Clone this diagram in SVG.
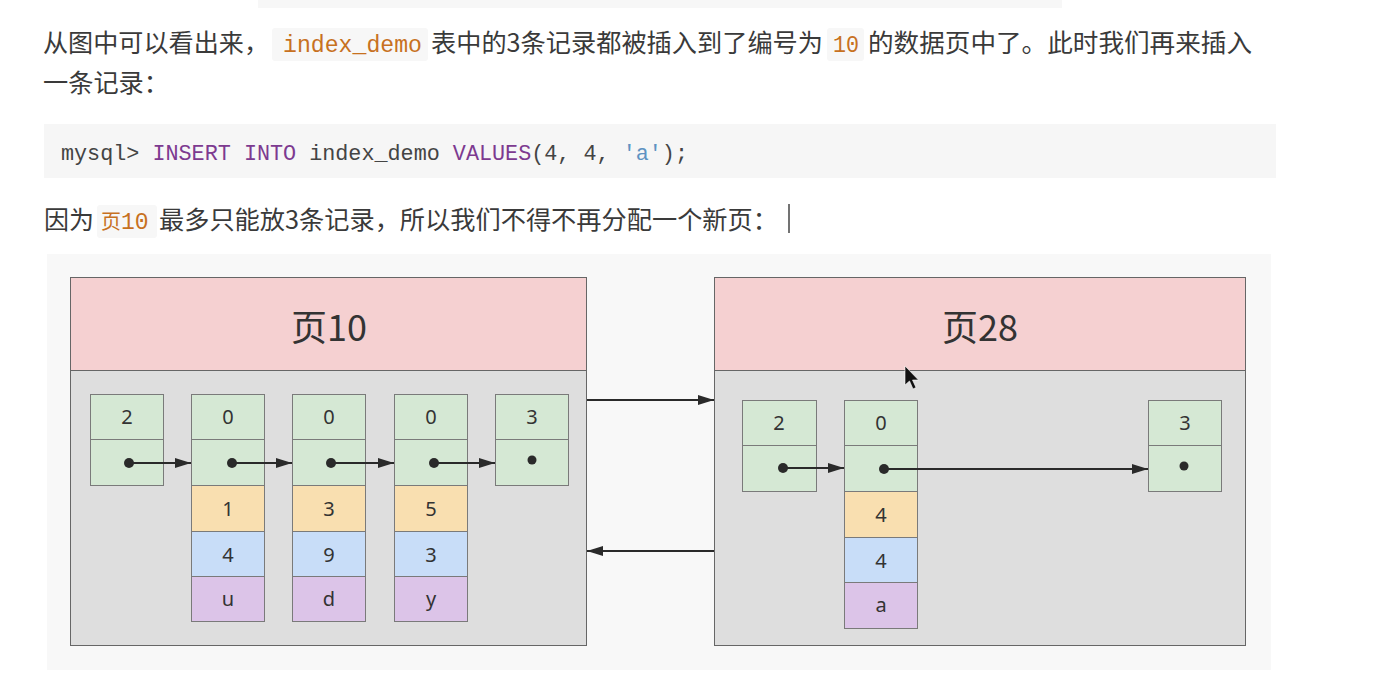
<svg xmlns="http://www.w3.org/2000/svg" width="1379" height="678" viewBox="0 0 1379 678">
<defs>
<style>
.cn{font-family:"Noto Sans CJK SC","Noto Sans",sans-serif;font-size:25px;fill:#3a3a3a}
.code{font-family:"Liberation Mono","DejaVu Sans Mono",monospace;fill:#c7711f}
.mono{font-family:"Liberation Mono","DejaVu Sans Mono",monospace;font-size:21.8px;fill:#444}
.kw{fill:#7d3a90}
.str{fill:#5e93c2}
.icode{fill:#f7f7f7}
.page-h{fill:#f5d0d1;stroke:#666;stroke-width:1}
.page-b{fill:#dedede;stroke:#666;stroke-width:1}
.title{font-family:"Noto Sans CJK SC","Noto Sans",sans-serif;font-size:36px;fill:#333;text-anchor:middle}
.g{fill:#d5e8d4;stroke:#7a7a7a;stroke-width:1}
.y{fill:#f9dfb0;stroke:#7a7a7a;stroke-width:1}
.b{fill:#c8ddf8;stroke:#7a7a7a;stroke-width:1}
.p{fill:#dcc4e8;stroke:#7a7a7a;stroke-width:1}
.v{font-family:"Noto Sans","DejaVu Sans",sans-serif;font-size:20px;fill:#333;text-anchor:middle}
.dot{fill:#2a2a2a}
.ln{stroke:#2a2a2a;stroke-width:2;fill:none;marker-end:url(#ah)}
</style>
<marker id="ah" viewBox="0 0 16 10" refX="16" refY="5" markerWidth="16" markerHeight="10" markerUnits="userSpaceOnUse" orient="auto">
<path d="M0,0 L16,5 L0,10 z" fill="#2a2a2a"/>
</marker>
</defs>
<rect width="1379" height="678" fill="#ffffff"/>
<rect x="258" y="0" width="804" height="8" fill="#f7f7f7"/>

<g id="para1">
<text class="cn" x="43" y="52" textLength="226" lengthAdjust="spacingAndGlyphs">从图中可以看出来，</text>
<rect class="icode" x="272" y="28" width="156" height="33" rx="3"/>
<text class="code" x="283" y="52" font-size="23" textLength="139" lengthAdjust="spacingAndGlyphs">index_demo</text>
<text class="cn" x="431" y="52" textLength="392" lengthAdjust="spacingAndGlyphs">表中的3条记录都被插入到了编号为</text>
<rect class="icode" x="827" y="28" width="37" height="33" rx="3"/>
<text class="code" x="833" y="52" font-size="23" textLength="26" lengthAdjust="spacingAndGlyphs">10</text>
<text class="cn" x="868" y="52" textLength="384" lengthAdjust="spacingAndGlyphs">的数据页中了。此时我们再来插入</text>
<text class="cn" x="43" y="92" textLength="126" lengthAdjust="spacingAndGlyphs">一条记录：</text>
</g>

<g id="codeblock">
<rect x="44" y="124" width="1232" height="54" fill="#f6f6f6"/>
<text class="mono" x="61" y="160" textLength="627" lengthAdjust="spacingAndGlyphs">mysql&gt; <tspan class="kw">INSERT</tspan> <tspan class="kw">INTO</tspan> index_demo <tspan class="kw">VALUES</tspan>(4, 4, <tspan class="str">'a'</tspan>);</text>
</g>

<g id="para2">
<text class="cn" x="44" y="229" textLength="50" lengthAdjust="spacingAndGlyphs">因为</text>
<rect class="icode" x="97" y="205" width="60" height="33" rx="3"/>
<text class="code" x="101" y="229" font-size="23"><tspan font-family="Noto Sans CJK SC, sans-serif" font-size="20">页</tspan>10</text>
<text class="cn" x="159" y="229" textLength="619" lengthAdjust="spacingAndGlyphs">最多只能放3条记录，所以我们不得不再分配一个新页：</text>
<line x1="789" y1="204" x2="789" y2="233" stroke="#444" stroke-width="1.5"/>
</g>

<rect id="diagram-bg" x="47" y="254" width="1224" height="416" fill="#f8f8f8"/>

<g id="page10">
<rect class="page-b" x="70.5" y="370.5" width="516" height="275"/>
<rect class="page-h" x="70.5" y="277.5" width="516" height="93"/>
<text class="title" x="329" y="341">页10</text>
</g>

<g id="page28">
<rect class="page-b" x="714.5" y="370.5" width="531" height="275"/>
<rect class="page-h" x="714.5" y="277.5" width="531" height="93"/>
<text class="title" x="980" y="341">页28</text>
</g>

<g id="p10-r-inf">
<rect class="g" x="90.5" y="394.5" width="73" height="45"/>
<rect class="g" x="90.5" y="439.5" width="73" height="46"/>
<text class="v" x="127" y="424">2</text>
<circle class="dot" cx="129" cy="463" r="5"/>
</g>
<g id="p10-r1">
<rect class="g" x="191.5" y="394.5" width="73" height="45"/>
<rect class="g" x="191.5" y="439.5" width="73" height="46"/>
<rect class="y" x="191.5" y="485.5" width="73" height="46"/>
<rect class="b" x="191.5" y="531.5" width="73" height="45"/>
<rect class="p" x="191.5" y="576.5" width="73" height="45"/>
<text class="v" x="228" y="424">0</text>
<circle class="dot" cx="232" cy="463" r="5"/>
<text class="v" x="228" y="516">1</text>
<text class="v" x="228" y="562">4</text>
<text class="v" x="228" y="606">u</text>
</g>
<g id="p10-r3">
<rect class="g" x="292.5" y="394.5" width="73" height="45"/>
<rect class="g" x="292.5" y="439.5" width="73" height="46"/>
<rect class="y" x="292.5" y="485.5" width="73" height="46"/>
<rect class="b" x="292.5" y="531.5" width="73" height="45"/>
<rect class="p" x="292.5" y="576.5" width="73" height="45"/>
<text class="v" x="329" y="424">0</text>
<circle class="dot" cx="331" cy="463" r="5"/>
<text class="v" x="329" y="516">3</text>
<text class="v" x="329" y="562">9</text>
<text class="v" x="329" y="606">d</text>
</g>
<g id="p10-r5">
<rect class="g" x="394.5" y="394.5" width="73" height="45"/>
<rect class="g" x="394.5" y="439.5" width="73" height="46"/>
<rect class="y" x="394.5" y="485.5" width="73" height="46"/>
<rect class="b" x="394.5" y="531.5" width="73" height="45"/>
<rect class="p" x="394.5" y="576.5" width="73" height="45"/>
<text class="v" x="431" y="424">0</text>
<circle class="dot" cx="434" cy="463" r="5"/>
<text class="v" x="431" y="516">5</text>
<text class="v" x="431" y="562">3</text>
<text class="v" x="431" y="606">y</text>
</g>
<g id="p10-r-sup">
<rect class="g" x="495.5" y="394.5" width="73" height="45"/>
<rect class="g" x="495.5" y="439.5" width="73" height="46"/>
<text class="v" x="532" y="424">3</text>
<circle class="dot" cx="532" cy="460" r="4.5"/>
</g>

<g id="p28-r-inf">
<rect class="g" x="742.5" y="400.5" width="74" height="45"/>
<rect class="g" x="742.5" y="445.5" width="74" height="46"/>
<text class="v" x="779" y="430">2</text>
<circle class="dot" cx="783" cy="468" r="5"/>
</g>
<g id="p28-r4">
<rect class="g" x="844.5" y="400.5" width="73" height="45"/>
<rect class="g" x="844.5" y="445.5" width="73" height="46"/>
<rect class="y" x="844.5" y="491.5" width="73" height="46"/>
<rect class="b" x="844.5" y="537.5" width="73" height="45"/>
<rect class="p" x="844.5" y="582.5" width="73" height="46"/>
<text class="v" x="881" y="430">0</text>
<circle class="dot" cx="884" cy="469" r="5"/>
<text class="v" x="881" y="522">4</text>
<text class="v" x="881" y="568">4</text>
<text class="v" x="881" y="612">a</text>
</g>
<g id="p28-r-sup">
<rect class="g" x="1148.5" y="400.5" width="73" height="45"/>
<rect class="g" x="1148.5" y="445.5" width="73" height="46"/>
<text class="v" x="1185" y="430">3</text>
<circle class="dot" cx="1184" cy="466" r="4.5"/>
</g>

<g id="connectors">
<line class="ln" x1="129" y1="463" x2="191" y2="463"/>
<line class="ln" x1="232" y1="463" x2="292" y2="463"/>
<line class="ln" x1="331" y1="463" x2="394" y2="463"/>
<line class="ln" x1="434" y1="463" x2="495" y2="463"/>
<line class="ln" x1="783" y1="468" x2="844" y2="468"/>
<line class="ln" x1="884" y1="469" x2="1148" y2="469"/>
<line class="ln" x1="587" y1="400" x2="714" y2="400"/>
<line class="ln" x1="714" y1="551" x2="587" y2="551"/>
</g>

<path id="mouse-pointer" d="M905,366 L905,385 L909.5,381 L913,389 L916,387.5 L912.5,380 L918.5,380 Z" fill="#111" stroke="#fff" stroke-width="0.6"/>
</svg>
